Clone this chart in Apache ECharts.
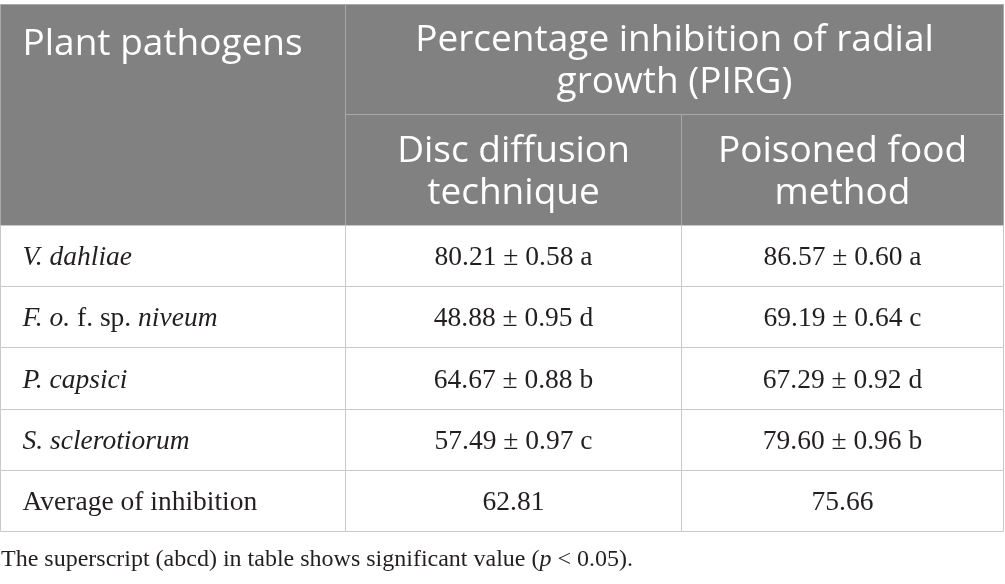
<!DOCTYPE html>
<html>

<head>
    <title>Percentage inhibition of radial growth (PIRG)</title>
    <meta charset="utf-8">
    <script src="https://cdn.jsdelivr.net/npm/echarts@6/dist/echarts.min.js"></script>
    <style>
        html, body { margin: 0; padding: 0; background: #fff; }
    </style>
</head>

<body>
    <div id="main" style="width: 1005px;height:584px;"></div>

    <script type="text/javascript">
        var myChart = echarts.init(document.getElementById('main'));

        // table contents
        var pathogens = ['{i|V. dahliae}', '{i|F. o.} f. sp. {i|niveum}', '{i|P. capsici}', '{i|S. sclerotiorum}'];
        var averageLabel = 'Average of inhibition';
        var discMean = [80.21, 48.88, 64.67, 57.49];
        var discSE = [0.58, 0.95, 0.88, 0.97];
        var discGroup = ['a', 'd', 'b', 'c'];
        var foodMean = [86.57, 69.19, 67.29, 79.60];
        var foodSE = [0.60, 0.64, 0.92, 0.96];
        var foodGroup = ['a', 'c', 'd', 'b'];
        var averages = [62.81, 75.66];

        var firstHeader = 'Plant pathogens';
        var spanHeader = 'Percentage inhibition of radial\ngrowth (PIRG)';
        var methods = ['Disc diffusion\ntechnique', 'Poisoned food\nmethod'];
        var footnote = 'The superscript (abcd) in table shows significant value ({i|p} < 0.05).';

        // layout (axis units)
        var colWidths = [345, 336, 322];
        var rowHeights = [110, 111, 61, 61, 62, 61, 61];

        function edges(sizes) {
            var e = [0];
            sizes.forEach(function (s) { e.push(e[e.length - 1] + s); });
            return e;
        }
        var colEdges = edges(colWidths);
        var rowEdges = edges(rowHeights);
        var tableW = colEdges[colEdges.length - 1];
        var tableH = rowEdges[rowEdges.length - 1];

        function fmt(m, s, g) {
            return m.toFixed(2) + ' \u00b1 ' + s.toFixed(2) + ' ' + g;
        }

        // build cells from the arrays
        var cells = [];
        cells.push({ col: 0, row: 0, cs: 1, rs: 2, text: firstHeader, head: true, align: 'left', top: true });
        cells.push({ col: 1, row: 0, cs: 2, rs: 1, text: spanHeader, head: true, align: 'center' });
        methods.forEach(function (m, i) {
            cells.push({ col: 1 + i, row: 1, cs: 1, rs: 1, text: m, head: true, align: 'center' });
        });
        pathogens.forEach(function (p, i) {
            cells.push({ col: 0, row: 2 + i, cs: 1, rs: 1, text: p, align: 'left' });
            cells.push({ col: 1, row: 2 + i, cs: 1, rs: 1, text: fmt(discMean[i], discSE[i], discGroup[i]), align: 'center' });
            cells.push({ col: 2, row: 2 + i, cs: 1, rs: 1, text: fmt(foodMean[i], foodSE[i], foodGroup[i]), align: 'center' });
        });
        var lastRow = 2 + pathogens.length;
        cells.push({ col: 0, row: lastRow, cs: 1, rs: 1, text: averageLabel, align: 'left' });
        averages.forEach(function (a, i) {
            cells.push({ col: 1 + i, row: lastRow, cs: 1, rs: 1, text: a.toFixed(2), align: 'center' });
        });

        var serif = 'Liberation Serif';
        var sans = 'Open Sans';

        function renderCell(params, api) {
            var c = cells[params.dataIndex];
            var p0 = api.coord([colEdges[c.col], rowEdges[c.row]]);
            var p1 = api.coord([colEdges[c.col + c.cs], rowEdges[c.row + c.rs]]);
            var w = p1[0] - p0[0];
            var h = p1[1] - p0[1];
            var tx = c.align === 'left' ? p0[0] + 22 : p0[0] + w / 2;
            var ty = c.top ? p0[1] + 40 : p0[1] + h / 2 + 2;
            return {
                type: 'group',
                children: [{
                    type: 'rect',
                    shape: { x: p0[0], y: p0[1], width: w, height: h },
                    style: {
                        fill: c.head ? '#818181' : '#ffffff',
                        stroke: c.head ? '#a9a9a9' : '#c8c8c8',
                        lineWidth: 1
                    }
                }, {
                    type: 'text',
                    style: {
                        text: c.text,
                        x: tx,
                        y: ty,
                        align: c.align,
                        verticalAlign: 'middle',
                        fontFamily: c.head ? sans : serif,
                        fontSize: c.head ? 37 : 27.5,
                        lineHeight: c.head ? 42 : 30,
                        fill: c.head ? '#ffffff' : '#231f20',
                        rich: {
                            i: {
                                fontStyle: 'italic',
                                fontFamily: serif,
                                fontSize: 27.5,
                                fill: '#231f20'
                            }
                        }
                    }
                }]
            };
        }

        var option = {
            animation: false,
            title: {
                text: footnote,
                left: 1,
                top: 548,
                padding: 0,
                textStyle: {
                    fontFamily: serif,
                    fontSize: 24,
                    fontWeight: 'normal',
                    color: '#231f20',
                    rich: {
                        i: { fontStyle: 'italic', fontFamily: serif, fontSize: 24, color: '#231f20' }
                    }
                }
            },
            grid: { left: 0.5, top: 4.5, width: tableW, height: tableH },
            xAxis: { type: 'value', min: 0, max: tableW, show: false },
            yAxis: { type: 'value', min: 0, max: tableH, inverse: true, show: false },
            series: [{
                type: 'custom',
                clip: false,
                renderItem: renderCell,
                data: cells.map(function (c) { return [colEdges[c.col], rowEdges[c.row]]; })
            }]
        };

        myChart.setOption(option);
    </script>
</body>

</html>
